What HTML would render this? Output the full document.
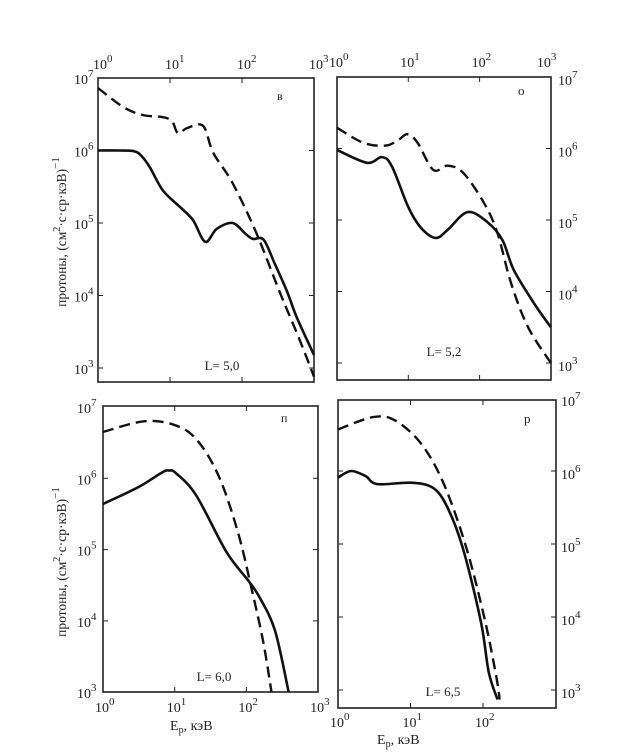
<!DOCTYPE html>
<html><head><meta charset="utf-8"><style>
html,body{margin:0;padding:0;background:#fff;}
svg{display:block;}
text{font-family:"Liberation Serif","DejaVu Serif",serif;fill:#222;}
</style></head><body>
<svg id="s" width="623" height="755" viewBox="0 0 623 755" xmlns="http://www.w3.org/2000/svg"></svg>
<script>
const S=document.getElementById('s');
let h='';
const P={
A:{x0:98,dx:72,y7:78,dy:72.5,box:[98,78,314,382],
 sol:[[0,6.0],[0.3,6.0],[0.5,5.99],[0.6,5.93],[0.72,5.77],[0.9,5.45],[1.14,5.22],[1.32,5.04],[1.49,4.74],[1.65,4.92],[1.87,5.0],[2.05,4.85],[2.15,4.78],[2.3,4.77],[2.45,4.45],[2.62,4.07],[2.76,3.7],[3.0,3.18]],
 das:[[0,6.86],[0.35,6.6],[0.62,6.49],[0.9,6.46],[1.03,6.4],[1.11,6.24],[1.24,6.31],[1.46,6.34],[1.6,5.97],[1.87,5.55],[2.2,4.86],[2.53,4.03],[2.8,3.39],[3.0,2.88]]},
B:{x0:337,dx:71.3,y7:77,dy:71.5,box:[337,77,551,380],
 sol:[[0,5.98],[0.42,5.8],[0.63,5.88],[0.77,5.75],[1.0,5.18],[1.17,4.9],[1.38,4.75],[1.55,4.86],[1.83,5.11],[2.11,4.97],[2.32,4.72],[2.48,4.3],[2.76,3.84],[3.0,3.5]],
 das:[[0,6.29],[0.37,6.08],[0.68,6.04],[0.86,6.12],[0.99,6.2],[1.13,6.08],[1.35,5.7],[1.55,5.76],[1.77,5.66],[2.06,5.24],[2.25,4.82],[2.44,4.12],[2.68,3.5],[3.0,3.0]]},
C:{x0:103,dx:71.7,y7:407,dy:71.3,box:[103,406,318,692],
 sol:[[0,5.64],[0.5,5.88],[0.82,6.08],[0.92,6.11],[1.02,6.07],[1.3,5.76],[1.72,4.97],[2.03,4.56],[2.19,4.32],[2.4,3.86],[2.59,3.0]],
 das:[[0,6.65],[0.57,6.8],[0.99,6.75],[1.3,6.55],[1.61,6.04],[1.88,5.25],[2.08,4.42],[2.24,3.68],[2.35,3.0]]},
D:{x0:338,dx:72.5,y7:398,dy:73,box:[338,400,556,708],
 sol:[[0,5.91],[0.18,6.0],[0.38,5.93],[0.54,5.82],[1.0,5.84],[1.31,5.77],[1.51,5.5],[1.72,4.95],[1.97,3.94],[2.08,3.24],[2.2,2.87]],
 das:[[0,6.57],[0.49,6.74],[0.79,6.69],[1.15,6.37],[1.46,5.82],[1.77,4.95],[2.03,3.94],[2.18,3.2],[2.23,2.87]]}
};
function px(p,d){return [p.x0+d[0]*p.dx, p.y7+(7-d[1])*p.dy];}
function path(pts){
 let s='M'+pts[0][0].toFixed(1)+','+pts[0][1].toFixed(1);
 for(let i=0;i<pts.length-1;i++){
  const p0=pts[Math.max(0,i-1)],p1=pts[i],p2=pts[i+1],p3=pts[Math.min(pts.length-1,i+2)];
  const c1=[p1[0]+(p2[0]-p0[0])/6,p1[1]+(p2[1]-p0[1])/6];
  const c2=[p2[0]-(p3[0]-p1[0])/6,p2[1]-(p3[1]-p1[1])/6];
  s+=' C'+c1.map(v=>v.toFixed(1))+' '+c2.map(v=>v.toFixed(1))+' '+p2.map(v=>v.toFixed(1));
 }
 return s;
}
function pw(x,y,e,anchor){return `<text x="${x}" y="${y}" font-size="14" text-anchor="${anchor||'start'}">10<tspan font-size="11" dy="-7">${e}</tspan></text>`;}
for(const k in P){
 const p=P[k],b=p.box;
 h+=`<rect x="${b[0]}" y="${b[1]}" width="${b[2]-b[0]}" height="${b[3]-b[1]}" fill="none" stroke="#222" stroke-width="1.6"/>`;
 for(let i=0;i<=3;i++){const x=p.x0+i*p.dx; if(x<b[2]-2){h+=`<line x1="${x}" y1="${b[1]}" x2="${x}" y2="${b[1]+5}" stroke="#222"/><line x1="${x}" y1="${b[3]}" x2="${x}" y2="${b[3]-5}" stroke="#222"/>`;}}
 for(let e=3;e<=7;e++){const y=p.y7+(7-e)*p.dy; if(y>b[1]+2&&y<b[3]-2){h+=`<line x1="${b[0]}" y1="${y}" x2="${b[0]+5}" y2="${y}" stroke="#222"/><line x1="${b[2]}" y1="${y}" x2="${b[2]-5}" y2="${y}" stroke="#222"/>`;}}
 h+=`<path d="${path(p.sol.map(d=>px(p,d)))}" fill="none" stroke="#111" stroke-width="2.6"/>`;
 h+=`<path d="${path(p.das.map(d=>px(p,d)))}" fill="none" stroke="#111" stroke-width="2.4" stroke-dasharray="11,6"/>`;
}
let A=P.A;for(let i=0;i<=3;i++)h+=pw(A.x0+i*A.dx-5,69,i);
for(let e=3;e<=7;e++)h+=pw(74,A.y7+(7-e)*A.dy+6,e);
let B=P.B;for(let i=0;i<=3;i++)h+=pw(B.x0+i*B.dx-8+(i==3?-6:0),67,i);
for(let e=3;e<=7;e++)h+=pw(558,B.y7+(7-e)*B.dy+8,e);
let C=P.C;for(let i=0;i<=3;i++)h+=pw(C.x0+i*C.dx-8,712,i);
for(let e=3;e<=7;e++)h+=pw(77,C.y7+(7-e)*C.dy+6,e);
let D=P.D;for(let i=0;i<=2;i++)h+=pw(D.x0+i*D.dx-8,727,i);
for(let e=3;e<=7;e++)h+=pw(561,D.y7+(7-e)*D.dy+8,e);
h+=`<text x="170" y="730" font-size="14">E<tspan font-size="10" dy="3">p</tspan><tspan dy="-3">, кэВ</tspan></text>`;
h+=`<text x="377" y="744" font-size="14">E<tspan font-size="10" dy="3">p</tspan><tspan dy="-3">, кэВ</tspan></text>`;
function yt(cx,cy){return `<text transform="translate(${cx},${cy}) rotate(-90)" font-size="13.5" text-anchor="middle">протоны,  (см<tspan font-size="10" dy="-6">2</tspan><tspan dy="6">·с·ср·кэВ)</tspan><tspan font-size="11" dy="-7">−1</tspan></text>`;}
h+=yt(66,232)+yt(66,562);
h+=`<text x="277" y="100" font-size="12">в</text><text x="518" y="95" font-size="13">о</text><text x="281" y="422" font-size="12">п</text><text x="524" y="423" font-size="13">р</text>`;
h+=`<text x="222" y="370" font-size="13" text-anchor="middle">L= 5,0</text><text x="444" y="356" font-size="13" text-anchor="middle">L= 5,2</text><text x="214" y="681" font-size="13" text-anchor="middle">L= 6,0</text><text x="443" y="696" font-size="13" text-anchor="middle">L= 6,5</text>`;
S.innerHTML=h;
</script>
</body></html>
